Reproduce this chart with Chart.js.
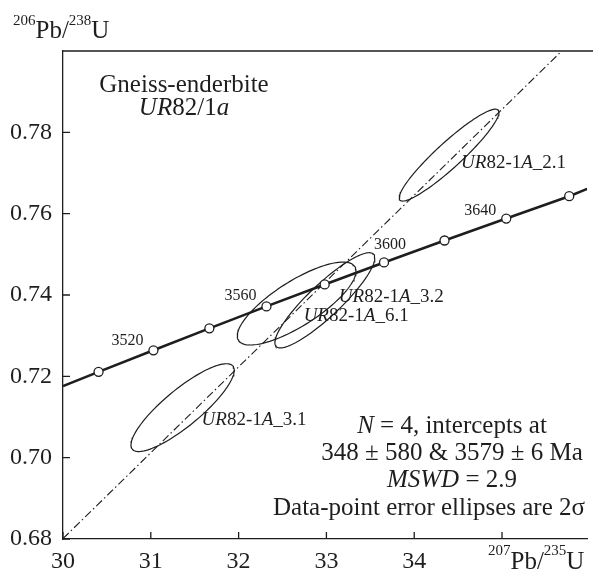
<!DOCTYPE html>
<html>
<head>
<meta charset="utf-8">
<script src="https://cdn.jsdelivr.net/npm/chart.js@4.4.0/dist/chart.umd.min.js"></script>
<style>
    html, body { margin: 0; padding: 0; background: #fff; }
    canvas { display: block; }
</style>
</head>
<body>
<canvas id="concordia" width="593" height="571"></canvas>
<script>
// concordia curve, 207Pb/235U vs 206Pb/238U
var concordiaX = [30.00, 30.405, 31.030, 31.667, 32.317, 32.980, 33.656, 34.345, 35.048, 35.765, 35.97];
var concordiaY = [0.7176, 0.7211, 0.7264, 0.7318, 0.7372, 0.7426, 0.7480, 0.7534, 0.7588, 0.7643, 0.7661];

// age marks on the curve, every 20 Ma
var markAges = [3500, 3520, 3540, 3560, 3580, 3600, 3620, 3640, 3660];
var markX = [30.405, 31.030, 31.667, 32.317, 32.980, 33.656, 34.345, 35.048, 35.765];
var markY = [0.7211, 0.7264, 0.7318, 0.7372, 0.7426, 0.7480, 0.7534, 0.7588, 0.7643];
var labelledAges = [3520, 3560, 3600, 3640];

// discordia line (dash-dot)
var discordiaX = [30.0, 35.68];
var discordiaY = [0.6801, 0.80];

// analyses: centre, 2 sigma half extents, error correlation
var spotNames = ['UR82-1A_2.1', 'UR82-1A_3.2', 'UR82-1A_6.1', 'UR82-1A_3.1'];
var spotX = [34.397, 32.982, 32.661, 31.362];
var spotY = [0.7744, 0.7387, 0.7379, 0.7123];
var spotErrX = [0.568, 0.569, 0.676, 0.588];
var spotErrY = [0.0113, 0.0117, 0.0102, 0.0108];
var spotRho = [0.93, 0.89, 0.78, 0.85];

// axis ticks
var xTicks = [30, 31, 32, 33, 34];
var yTicks = [0.68, 0.70, 0.72, 0.74, 0.76, 0.78];

var serif = "'Liberation Serif', 'Times New Roman', serif";
var ink = '#1e1e1e';

// label placement in pixels (relative to the ellipse centre / the age mark)
var spotLabelOffset = [[12, 13], [14, 2], [7, 17], [19, 17]];
var ageLabelOffset = { 3520: [-26, -5], 3560: [-26, -6], 3600: [6, -13], 3640: [-26, -4] };

function ellipsePoints(i) {
    var pts = [];
    var k = Math.sqrt(1 - spotRho[i] * spotRho[i]);
    for (var n = 0; n <= 120; n++) {
        var t = n / 120 * Math.PI * 2;
        pts.push({
            x: spotX[i] + spotErrX[i] * Math.cos(t),
            y: spotY[i] + spotErrY[i] * (spotRho[i] * Math.cos(t) + k * Math.sin(t))
        });
    }
    return pts;
}

function zipXY(xs, ys) {
    return xs.map(function (x, i) { return { x: x, y: ys[i] }; });
}

// runs: [text, italic, size, dy]
function drawRuns(ctx, runs, x, y, align) {
    var widths = runs.map(function (r) {
        ctx.font = (r[1] ? 'italic ' : '') + r[2] + 'px ' + serif;
        return ctx.measureText(r[0]).width;
    });
    var total = widths.reduce(function (a, b) { return a + b; }, 0);
    var cx = align === 'center' ? x - total / 2 : (align === 'right' ? x - total : x);
    ctx.textAlign = 'left';
    ctx.textBaseline = 'alphabetic';
    runs.forEach(function (r, i) {
        ctx.font = (r[1] ? 'italic ' : '') + r[2] + 'px ' + serif;
        ctx.fillText(r[0], cx, y + (r[3] || 0));
        cx += widths[i];
    });
}

function spotRuns(name, size) {
    var m = name.match(/^([A-Z]+)(\d+-\d)([A-Z])(_.*)$/);
    return [[m[1], true, size], [m[2], false, size], [m[3], true, size], [m[4], false, size]];
}

var annotations = {
    id: 'annotations',
    afterDatasetsDraw: function (chart) {
        var ctx = chart.ctx;
        var xs = chart.scales.x, ys = chart.scales.y;
        var area = chart.chartArea;
        ctx.save();
        ctx.strokeStyle = ink;
        ctx.fillStyle = ink;

        // frame top and inward ticks
        ctx.lineWidth = 1.3;
        ctx.beginPath();
        ctx.moveTo(area.left, area.top);
        ctx.lineTo(chart.width, area.top);
        xTicks.concat([35]).forEach(function (v) {
            var px = xs.getPixelForValue(v);
            ctx.moveTo(px, area.bottom);
            ctx.lineTo(px, area.bottom - 7);
        });
        yTicks.forEach(function (v) {
            var py = ys.getPixelForValue(v);
            ctx.moveTo(area.left, py);
            ctx.lineTo(area.left + 7, py);
        });
        ctx.stroke();

        // age labels
        labelledAges.forEach(function (age) {
            var i = markAges.indexOf(age);
            var off = ageLabelOffset[age];
            drawRuns(ctx, [[String(age), false, 16]],
                xs.getPixelForValue(markX[i]) + off[0], ys.getPixelForValue(markY[i]) + off[1], 'center');
        });

        // spot labels
        spotNames.forEach(function (name, i) {
            drawRuns(ctx, spotRuns(name, 19),
                xs.getPixelForValue(spotX[i]) + spotLabelOffset[i][0],
                ys.getPixelForValue(spotY[i]) + spotLabelOffset[i][1], 'left');
        });

        // sample name
        drawRuns(ctx, [['Gneiss-enderbite', false, 25]], 184, 92, 'center');
        drawRuns(ctx, [['UR', true, 25], ['82/1', false, 25], ['a', true, 25]], 184, 115, 'center');

        // result block
        drawRuns(ctx, [['N', true, 25], [' = 4, intercepts at', false, 25]], 452, 433, 'center');
        drawRuns(ctx, [['348 \u00b1 580 & 3579 \u00b1 6 Ma', false, 25]], 452, 460, 'center');
        drawRuns(ctx, [['MSWD', true, 25], [' = 2.9', false, 25]], 452, 487, 'center');
        drawRuns(ctx, [['Data-point error ellipses are 2\u03c3', false, 25]], 429, 515, 'center');

        // axis titles
        drawRuns(ctx, [['206', false, 15, -13], ['Pb/', false, 25], ['238', false, 15, -13], ['U', false, 25]], 13, 38, 'left');
        drawRuns(ctx, [['207', false, 15, -14], ['Pb/', false, 25], ['235', false, 15, -14], ['U', false, 25]], 488, 569, 'left');
        ctx.restore();
    }
};

var datasets = [{
    label: 'ages',
    data: zipXY(markX, markY),
    showLine: false,
    pointRadius: 4.5,
    pointBackgroundColor: '#fff',
    pointBorderColor: ink,
    pointBorderWidth: 1.3
}, {
    label: 'concordia',
    data: zipXY(concordiaX, concordiaY),
    showLine: true,
    pointRadius: 0,
    borderColor: ink,
    borderWidth: 2.6
}, {
    label: 'discordia',
    data: zipXY(discordiaX, discordiaY),
    showLine: true,
    pointRadius: 0,
    borderColor: ink,
    borderWidth: 1.1,
    borderDash: [8, 3, 1.5, 3]
}];

spotNames.forEach(function (name, i) {
    datasets.push({
        label: name,
        data: ellipsePoints(i),
        showLine: true,
        pointRadius: 0,
        borderColor: ink,
        borderWidth: 1.2
    });
});

var ctx = document.getElementById('concordia').getContext('2d');
new Chart(ctx, {
    type: 'scatter',
    data: { datasets: datasets },
    options: {
        responsive: false,
        animation: false,
        devicePixelRatio: 1,
        layout: { padding: { top: 51, right: 0, bottom: 0, left: 0 } },
        plugins: {
            legend: { display: false },
            tooltip: { enabled: false }
        },
        scales: {
            x: {
                type: 'linear',
                min: 30,
                max: 35.97,
                afterFit: function (scale) { scale.height = 32; },
                grid: { display: false },
                border: { display: true, color: ink, width: 1.3 },
                ticks: {
                    stepSize: 1,
                    includeBounds: false,
                    autoSkip: false,
                    maxRotation: 0,
                    padding: 0,
                    color: ink,
                    font: { family: serif, size: 24 },
                    callback: function (v) { return xTicks.indexOf(v) >= 0 ? String(v) : ''; }
                }
            },
            y: {
                type: 'linear',
                min: 0.68,
                max: 0.80,
                afterFit: function (scale) { scale.width = 63; },
                grid: { display: false },
                border: { display: true, color: ink, width: 1.3 },
                ticks: {
                    stepSize: 0.02,
                    includeBounds: false,
                    autoSkip: false,
                    padding: 3,
                    color: ink,
                    font: { family: serif, size: 24 },
                    callback: function (v) { return v > 0.79 ? '' : v.toFixed(2); }
                }
            }
        }
    },
    plugins: [annotations]
});
</script>
</body>
</html>
